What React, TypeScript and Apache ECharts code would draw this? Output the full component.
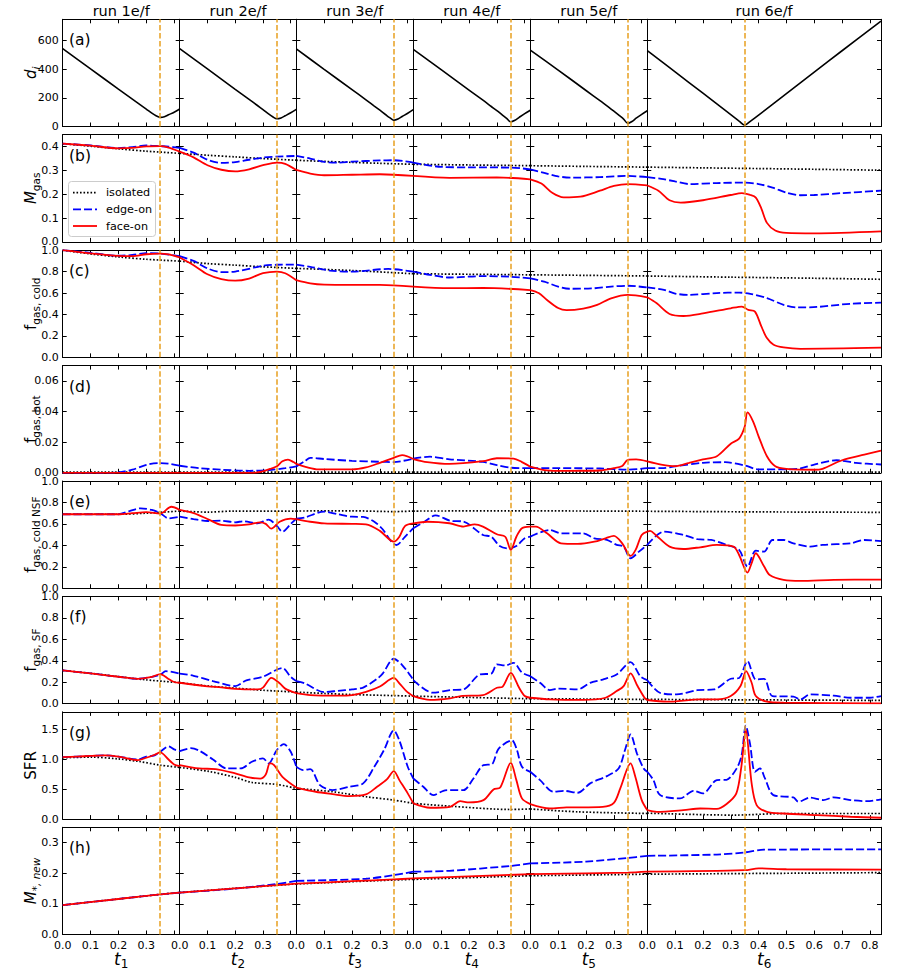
import React, { useEffect, useRef } from 'react';
import * as echarts from 'echarts';

// ---------------- data ----------------
const runTitles = ['run 1e/f', 'run 2e/f', 'run 3e/f', 'run 4e/f', 'run 5e/f', 'run 6e/f'];
const timeSubscripts = ['1', '2', '3', '4', '5', '6'];
const tMax = [0.42, 0.42, 0.42, 0.42, 0.42, 0.84];
const encounterTime = 0.35;
const panelLetters = ['(a)', '(b)', '(c)', '(d)', '(e)', '(f)', '(g)', '(h)'];
const yMax = [750, 0.45, 1.0, 0.07, 1.0, 1.0, 1.8, 0.35];
const yInterval = [200, 0.1, 0.2, 0.02, 0.2, 0.2, 0.5, 0.1];
const yDecimals = [0, 1, 1, 2, 1, 1, 1, 1];
const seriesNames = ['isolated', 'edge-on', 'face-on'];

type Cols = number[][][];

// (a) separation d_i
const distance: Cols = [
  [[0, 545], [0.1, 403], [0.2, 262], [0.25, 192], [0.28, 150], [0.3, 122], [0.32, 93], [0.335, 75], [0.35, 64], [0.365, 68], [0.38, 82], [0.4, 100], [0.42, 122]],
  [[0, 545], [0.1, 403], [0.2, 260], [0.25, 190], [0.28, 147], [0.3, 118], [0.32, 88], [0.335, 68], [0.35, 54], [0.365, 60], [0.38, 75], [0.4, 96], [0.42, 120]],
  [[0, 543], [0.1, 400], [0.2, 258], [0.25, 187], [0.28, 143], [0.3, 114], [0.32, 84], [0.335, 62], [0.35, 44], [0.365, 52], [0.38, 70], [0.4, 93], [0.42, 118]],
  [[0, 540], [0.1, 398], [0.2, 255], [0.25, 184], [0.28, 140], [0.3, 111], [0.32, 80], [0.335, 57], [0.35, 33], [0.365, 44], [0.38, 64], [0.4, 90], [0.42, 114]],
  [[0, 535], [0.1, 395], [0.2, 252], [0.25, 181], [0.28, 137], [0.3, 107], [0.32, 76], [0.335, 52], [0.35, 22], [0.365, 35], [0.38, 58], [0.4, 85], [0.42, 110]],
  [[0, 531], [0.1, 382], [0.2, 233], [0.3, 83], [0.33, 38], [0.35, 9], [0.37, 36], [0.4, 80], [0.5, 230], [0.6, 380], [0.7, 530], [0.84, 738]],
];

// (b) M_gas
const mgasIso: Cols = [
  [[0, 0.412], [0.1, 0.402], [0.2, 0.391], [0.3, 0.381], [0.42, 0.372]],
  [[0, 0.372], [0.1, 0.364], [0.2, 0.357], [0.3, 0.35], [0.42, 0.343]],
  [[0, 0.343], [0.1, 0.338], [0.2, 0.334], [0.3, 0.33], [0.42, 0.326]],
  [[0, 0.326], [0.2, 0.323], [0.42, 0.32]],
  [[0, 0.32], [0.2, 0.317], [0.42, 0.314]],
  [[0, 0.314], [0.2, 0.311], [0.4, 0.308], [0.6, 0.305], [0.84, 0.301]],
];
const mgasEdge: Cols = [
  [[0, 0.413], [0.1, 0.405], [0.2, 0.394], [0.25, 0.398], [0.3, 0.405], [0.35, 0.402], [0.38, 0.4], [0.42, 0.395]],
  [[0, 0.395], [0.05, 0.375], [0.1, 0.345], [0.15, 0.332], [0.2, 0.335], [0.25, 0.345], [0.3, 0.354], [0.35, 0.358], [0.42, 0.361]],
  [[0, 0.361], [0.05, 0.35], [0.1, 0.336], [0.15, 0.333], [0.2, 0.337], [0.3, 0.342], [0.35, 0.343], [0.42, 0.333]],
  [[0, 0.333], [0.1, 0.315], [0.2, 0.313], [0.35, 0.312], [0.42, 0.305]],
  [[0, 0.305], [0.05, 0.29], [0.1, 0.275], [0.15, 0.27], [0.25, 0.272], [0.35, 0.277], [0.42, 0.272]],
  [[0, 0.272], [0.05, 0.265], [0.1, 0.254], [0.15, 0.243], [0.25, 0.247], [0.35, 0.249], [0.4, 0.243], [0.45, 0.228], [0.5, 0.207], [0.55, 0.196], [0.6, 0.197], [0.7, 0.205], [0.84, 0.215]],
];
const mgasFace: Cols = [
  [[0, 0.413], [0.1, 0.404], [0.2, 0.393], [0.25, 0.395], [0.3, 0.401], [0.35, 0.402], [0.38, 0.396], [0.42, 0.379]],
  [[0, 0.379], [0.05, 0.355], [0.1, 0.322], [0.15, 0.303], [0.2, 0.296], [0.25, 0.305], [0.3, 0.322], [0.35, 0.333], [0.38, 0.328], [0.42, 0.302]],
  [[0, 0.302], [0.05, 0.287], [0.1, 0.28], [0.2, 0.282], [0.3, 0.284], [0.42, 0.277]],
  [[0, 0.277], [0.13, 0.269], [0.3, 0.271], [0.42, 0.263]],
  [[0, 0.263], [0.04, 0.245], [0.08, 0.205], [0.12, 0.187], [0.18, 0.19], [0.25, 0.215], [0.3, 0.235], [0.35, 0.243], [0.42, 0.237]],
  [[0, 0.237], [0.04, 0.215], [0.08, 0.175], [0.12, 0.165], [0.2, 0.175], [0.3, 0.197], [0.34, 0.205], [0.37, 0.197], [0.39, 0.186], [0.41, 0.14], [0.43, 0.08], [0.46, 0.048], [0.5, 0.038], [0.6, 0.036], [0.84, 0.044]],
];

// (c) f_gas,cold
const coldIso: Cols = [
  [[0, 1.0], [0.1, 0.965], [0.2, 0.937], [0.3, 0.915], [0.42, 0.898]],
  [[0, 0.898], [0.1, 0.875], [0.2, 0.86], [0.3, 0.845], [0.42, 0.83]],
  [[0, 0.83], [0.2, 0.81], [0.42, 0.78]],
  [[0, 0.78], [0.2, 0.775], [0.42, 0.77]],
  [[0, 0.77], [0.2, 0.765], [0.42, 0.759]],
  [[0, 0.759], [0.3, 0.748], [0.6, 0.738], [0.84, 0.728]],
];
const coldEdge: Cols = [
  [[0, 1.0], [0.1, 0.975], [0.2, 0.948], [0.25, 0.955], [0.3, 0.972], [0.35, 0.968], [0.42, 0.945]],
  [[0, 0.945], [0.05, 0.9], [0.1, 0.83], [0.15, 0.795], [0.2, 0.8], [0.3, 0.855], [0.35, 0.864], [0.42, 0.866]],
  [[0, 0.866], [0.05, 0.845], [0.12, 0.81], [0.2, 0.8], [0.33, 0.825], [0.42, 0.8]],
  [[0, 0.8], [0.06, 0.77], [0.13, 0.745], [0.25, 0.758], [0.35, 0.752], [0.42, 0.737]],
  [[0, 0.737], [0.05, 0.706], [0.1, 0.66], [0.14, 0.64], [0.22, 0.643], [0.29, 0.66], [0.35, 0.668], [0.42, 0.652]],
  [[0, 0.652], [0.06, 0.63], [0.1, 0.595], [0.15, 0.583], [0.25, 0.6], [0.33, 0.604], [0.37, 0.593], [0.43, 0.553], [0.49, 0.49], [0.54, 0.466], [0.61, 0.47], [0.73, 0.5], [0.84, 0.51]],
];
const coldFace: Cols = [
  [[0, 1.0], [0.1, 0.97], [0.2, 0.947], [0.25, 0.945], [0.3, 0.962], [0.35, 0.968], [0.38, 0.96], [0.42, 0.932]],
  [[0, 0.932], [0.05, 0.86], [0.1, 0.775], [0.15, 0.73], [0.2, 0.715], [0.25, 0.735], [0.3, 0.785], [0.35, 0.8], [0.38, 0.785], [0.42, 0.72]],
  [[0, 0.72], [0.05, 0.69], [0.1, 0.678], [0.2, 0.676], [0.3, 0.676], [0.42, 0.66]],
  [[0, 0.66], [0.13, 0.645], [0.25, 0.648], [0.42, 0.628]],
  [[0, 0.628], [0.03, 0.6], [0.06, 0.535], [0.1, 0.46], [0.13, 0.44], [0.19, 0.455], [0.24, 0.49], [0.29, 0.55], [0.35, 0.582], [0.42, 0.56]],
  [[0, 0.56], [0.034, 0.504], [0.08, 0.405], [0.13, 0.386], [0.2, 0.41], [0.3, 0.458], [0.34, 0.474], [0.363, 0.443], [0.387, 0.427], [0.41, 0.288], [0.43, 0.18], [0.454, 0.118], [0.49, 0.093], [0.55, 0.08], [0.84, 0.09]],
];

// (d) f_gas,hot
const hotIso: Cols = [
  [[0, 0.0004], [0.42, 0.0004]],
  [[0, 0.0004], [0.42, 0.0004]],
  [[0, 0.0004], [0.42, 0.0004]],
  [[0, 0.0004], [0.42, 0.0004]],
  [[0, 0.0004], [0.42, 0.0004]],
  [[0, 0.0004], [0.84, 0.0004]],
];
const hotEdge: Cols = [
  [[0, 0], [0.15, 0], [0.2, 0.0003], [0.25, 0.002], [0.3, 0.0052], [0.35, 0.0063], [0.38, 0.006], [0.42, 0.0046]],
  [[0, 0.0046], [0.07, 0.003], [0.15, 0.002], [0.25, 0.0013], [0.32, 0.0018], [0.38, 0.003], [0.42, 0.0042]],
  [[0, 0.0042], [0.03, 0.0075], [0.05, 0.0098], [0.1, 0.009], [0.2, 0.0078], [0.3, 0.0072], [0.35, 0.007], [0.42, 0.0093]],
  [[0, 0.0093], [0.06, 0.0105], [0.13, 0.0088], [0.25, 0.0071], [0.3, 0.005], [0.35, 0.0033], [0.42, 0.003]],
  [[0, 0.003], [0.1, 0.003], [0.25, 0.0028], [0.35, 0.002], [0.42, 0.003]],
  [[0, 0.003], [0.05, 0.003], [0.1, 0.0042], [0.2, 0.0065], [0.28, 0.0069], [0.35, 0.0048], [0.4, 0.0022], [0.5, 0.0022], [0.55, 0.0028], [0.6, 0.0054], [0.68, 0.0082], [0.75, 0.0065], [0.84, 0.0054]],
];
const hotFace: Cols = [
  [[0, 0], [0.42, 0]],
  [[0, 0], [0.27, 0], [0.3, 0.001], [0.33, 0.0028], [0.35, 0.0042], [0.37, 0.0075], [0.39, 0.0086], [0.41, 0.007], [0.42, 0.0058]],
  [[0, 0.0058], [0.04, 0.0035], [0.08, 0.0022], [0.2, 0.0022], [0.25, 0.0035], [0.3, 0.0065], [0.35, 0.0098], [0.38, 0.0115], [0.42, 0.009]],
  [[0, 0.009], [0.05, 0.007], [0.13, 0.0058], [0.25, 0.0076], [0.3, 0.0095], [0.36, 0.0093], [0.39, 0.007], [0.42, 0.004]],
  [[0, 0.004], [0.05, 0.0018], [0.1, 0.0013], [0.25, 0.0015], [0.3, 0.003], [0.33, 0.0045], [0.35, 0.0085], [0.38, 0.0088], [0.42, 0.0075]],
  [[0, 0.0075], [0.05, 0.0054], [0.1, 0.0043], [0.15, 0.0065], [0.2, 0.0087], [0.25, 0.0108], [0.3, 0.019], [0.33, 0.0223], [0.35, 0.03], [0.36, 0.0394], [0.38, 0.0336], [0.4, 0.0238], [0.43, 0.0108], [0.46, 0.0043], [0.5, 0.0026], [0.6, 0.002], [0.63, 0.0026], [0.7, 0.0082], [0.78, 0.0119], [0.84, 0.0145]],
];

// (e) f_gas,cold NSF
const nsfIso: Cols = [
  [[0, 0.69], [0.2, 0.69], [0.3, 0.7], [0.42, 0.72]],
  [[0, 0.72], [0.1, 0.71], [0.2, 0.72], [0.42, 0.72]],
  [[0, 0.72], [0.2, 0.722], [0.35, 0.715], [0.42, 0.72]],
  [[0, 0.72], [0.42, 0.722]],
  [[0, 0.722], [0.2, 0.72], [0.42, 0.718]],
  [[0, 0.718], [0.4, 0.712], [0.84, 0.708]],
];
const nsfEdge: Cols = [
  [[0, 0.69], [0.2, 0.69], [0.24, 0.72], [0.28, 0.745], [0.32, 0.73], [0.35, 0.7], [0.38, 0.652], [0.42, 0.667]],
  [[0, 0.667], [0.05, 0.645], [0.1, 0.627], [0.15, 0.63], [0.2, 0.615], [0.23, 0.625], [0.28, 0.605], [0.32, 0.64], [0.35, 0.58], [0.37, 0.527], [0.4, 0.6], [0.42, 0.65]],
  [[0, 0.65], [0.03, 0.66], [0.1, 0.714], [0.15, 0.69], [0.2, 0.667], [0.24, 0.665], [0.28, 0.62], [0.31, 0.55], [0.34, 0.44], [0.36, 0.403], [0.39, 0.48], [0.42, 0.56]],
  [[0, 0.56], [0.04, 0.62], [0.08, 0.68], [0.132, 0.63], [0.18, 0.621], [0.25, 0.497], [0.28, 0.481], [0.31, 0.394], [0.34, 0.372], [0.37, 0.394], [0.4, 0.466], [0.42, 0.481]],
  [[0, 0.481], [0.07, 0.543], [0.11, 0.512], [0.19, 0.512], [0.23, 0.466], [0.275, 0.45], [0.31, 0.404], [0.335, 0.388], [0.36, 0.279], [0.39, 0.341], [0.42, 0.404]],
  [[0, 0.404], [0.06, 0.528], [0.13, 0.497], [0.18, 0.457], [0.23, 0.45], [0.285, 0.404], [0.33, 0.357], [0.36, 0.202], [0.39, 0.35], [0.42, 0.341], [0.45, 0.45], [0.49, 0.45], [0.525, 0.419], [0.585, 0.388], [0.63, 0.404], [0.73, 0.419], [0.78, 0.45], [0.84, 0.44]],
];
const nsfFace: Cols = [
  [[0, 0.69], [0.1, 0.69], [0.2, 0.69], [0.25, 0.7], [0.3, 0.71], [0.35, 0.695], [0.39, 0.76], [0.42, 0.73]],
  [[0, 0.73], [0.05, 0.7], [0.1, 0.646], [0.15, 0.59], [0.2, 0.585], [0.25, 0.595], [0.29, 0.615], [0.31, 0.6], [0.33, 0.555], [0.36, 0.62], [0.4, 0.65], [0.42, 0.645]],
  [[0, 0.645], [0.05, 0.62], [0.1, 0.605], [0.2, 0.6], [0.25, 0.596], [0.3, 0.535], [0.35, 0.434], [0.37, 0.48], [0.39, 0.58], [0.42, 0.605]],
  [[0, 0.605], [0.05, 0.62], [0.13, 0.606], [0.18, 0.575], [0.22, 0.596], [0.25, 0.575], [0.3, 0.503], [0.33, 0.48], [0.35, 0.357], [0.37, 0.48], [0.39, 0.56], [0.42, 0.575]],
  [[0, 0.575], [0.02, 0.575], [0.06, 0.512], [0.11, 0.419], [0.17, 0.413], [0.23, 0.434], [0.27, 0.466], [0.3, 0.488], [0.33, 0.419], [0.36, 0.301], [0.378, 0.357], [0.4, 0.497], [0.42, 0.528]],
  [[0, 0.528], [0.01, 0.535], [0.03, 0.497], [0.08, 0.388], [0.13, 0.366], [0.19, 0.382], [0.25, 0.404], [0.31, 0.388], [0.33, 0.31], [0.36, 0.146], [0.375, 0.233], [0.39, 0.326], [0.42, 0.202], [0.44, 0.124], [0.49, 0.078], [0.55, 0.068], [0.67, 0.078], [0.84, 0.081]],
];

// (f) f_gas,SF
const sfIso: Cols = [
  [[0, 0.31], [0.1, 0.283], [0.2, 0.252], [0.3, 0.222], [0.42, 0.196]],
  [[0, 0.196], [0.1, 0.165], [0.2, 0.145], [0.3, 0.125], [0.42, 0.108]],
  [[0, 0.108], [0.1, 0.095], [0.2, 0.085], [0.35, 0.075], [0.42, 0.07]],
  [[0, 0.07], [0.2, 0.058], [0.42, 0.046]],
  [[0, 0.046], [0.2, 0.043], [0.42, 0.04]],
  [[0, 0.04], [0.3, 0.036], [0.6, 0.033], [0.84, 0.03]],
];
const sfEdge: Cols = [
  [[0, 0.31], [0.1, 0.283], [0.2, 0.251], [0.27, 0.232], [0.32, 0.25], [0.35, 0.27], [0.37, 0.303], [0.42, 0.28]],
  [[0, 0.28], [0.05, 0.26], [0.12, 0.211], [0.2, 0.164], [0.24, 0.217], [0.3, 0.251], [0.37, 0.332], [0.4, 0.25], [0.42, 0.21]],
  [[0, 0.21], [0.03, 0.19], [0.1, 0.108], [0.15, 0.12], [0.2, 0.133], [0.24, 0.15], [0.29, 0.232], [0.31, 0.28], [0.35, 0.419], [0.38, 0.36], [0.41, 0.26], [0.42, 0.22]],
  [[0, 0.22], [0.07, 0.102], [0.132, 0.126], [0.18, 0.133], [0.24, 0.273], [0.28, 0.28], [0.3, 0.366], [0.33, 0.356], [0.36, 0.381], [0.39, 0.29], [0.42, 0.256]],
  [[0, 0.256], [0.035, 0.194], [0.07, 0.126], [0.1, 0.14], [0.17, 0.133], [0.215, 0.194], [0.26, 0.225], [0.31, 0.272], [0.36, 0.387], [0.395, 0.256], [0.42, 0.219]],
  [[0, 0.219], [0.045, 0.102], [0.105, 0.086], [0.18, 0.126], [0.24, 0.133], [0.3, 0.232], [0.33, 0.24], [0.36, 0.397], [0.39, 0.226], [0.42, 0.232], [0.45, 0.071], [0.525, 0.065], [0.55, 0.04], [0.585, 0.086], [0.67, 0.075], [0.73, 0.055], [0.8, 0.055], [0.84, 0.071]],
];
const sfFace: Cols = [
  [[0, 0.31], [0.1, 0.283], [0.2, 0.251], [0.27, 0.232], [0.32, 0.25], [0.35, 0.276], [0.38, 0.23], [0.4, 0.202], [0.42, 0.195]],
  [[0, 0.195], [0.1, 0.162], [0.15, 0.152], [0.2, 0.138], [0.28, 0.133], [0.3, 0.149], [0.33, 0.24], [0.36, 0.19], [0.38, 0.14], [0.42, 0.098]],
  [[0, 0.098], [0.05, 0.08], [0.15, 0.075], [0.2, 0.08], [0.25, 0.11], [0.3, 0.16], [0.35, 0.24], [0.37, 0.19], [0.395, 0.117], [0.42, 0.07]],
  [[0, 0.07], [0.06, 0.035], [0.132, 0.049], [0.17, 0.071], [0.25, 0.08], [0.3, 0.148], [0.32, 0.157], [0.35, 0.288], [0.38, 0.148], [0.4, 0.071], [0.42, 0.055]],
  [[0, 0.055], [0.07, 0.04], [0.19, 0.035], [0.27, 0.055], [0.31, 0.117], [0.335, 0.164], [0.36, 0.282], [0.385, 0.164], [0.41, 0.055], [0.42, 0.034]],
  [[0, 0.034], [0.07, 0.018], [0.19, 0.04], [0.25, 0.04], [0.3, 0.071], [0.335, 0.164], [0.355, 0.303], [0.375, 0.195], [0.39, 0.071], [0.43, 0.018], [0.49, 0.009], [0.84, 0.003]],
];

// (g) SFR
const sfrIso: Cols = [
  [[0, 1.03], [0.1, 1.04], [0.2, 1.01], [0.27, 0.97], [0.35, 0.906], [0.42, 0.867]],
  [[0, 0.867], [0.1, 0.805], [0.2, 0.7], [0.26, 0.616], [0.35, 0.582], [0.42, 0.515]],
  [[0, 0.515], [0.13, 0.459], [0.25, 0.375], [0.35, 0.319], [0.42, 0.263]],
  [[0, 0.263], [0.13, 0.217], [0.35, 0.161], [0.42, 0.17]],
  [[0, 0.17], [0.17, 0.122], [0.42, 0.094]],
  [[0, 0.1], [0.31, 0.067], [0.5, 0.094], [0.84, 0.094]],
];
const sfrEdge: Cols = [
  [[0, 1.04], [0.05, 1.05], [0.1, 1.06], [0.15, 1.07], [0.2, 1.05], [0.27, 1.0], [0.3, 1.05], [0.33, 1.07], [0.35, 1.13], [0.38, 1.22], [0.4, 1.17], [0.42, 1.14]],
  [[0, 1.14], [0.04, 1.19], [0.07, 1.15], [0.12, 1.0], [0.17, 0.85], [0.22, 0.85], [0.26, 0.962], [0.3, 1.02], [0.32, 0.934], [0.35, 1.16], [0.375, 1.26], [0.4, 1.13], [0.42, 0.878]],
  [[0, 0.878], [0.025, 0.822], [0.05, 0.84], [0.085, 0.57], [0.13, 0.487], [0.19, 0.543], [0.24, 0.599], [0.28, 0.878], [0.315, 1.16], [0.35, 1.49], [0.37, 1.32], [0.4, 0.878], [0.42, 0.682]],
  [[0, 0.682], [0.036, 0.542], [0.072, 0.403], [0.108, 0.475], [0.132, 0.486], [0.18, 0.486], [0.216, 0.682], [0.252, 0.906], [0.282, 0.92], [0.306, 1.18], [0.354, 1.32], [0.372, 1.16], [0.39, 0.878], [0.42, 0.794]],
  [[0, 0.794], [0.035, 0.654], [0.083, 0.459], [0.12, 0.475], [0.17, 0.442], [0.215, 0.599], [0.275, 0.722], [0.317, 0.85], [0.34, 1.16], [0.36, 1.42], [0.383, 1.1], [0.407, 0.85], [0.42, 0.794]],
  [[0, 0.794], [0.022, 0.654], [0.046, 0.403], [0.118, 0.347], [0.166, 0.475], [0.2, 0.43], [0.25, 0.654], [0.285, 0.66], [0.321, 0.85], [0.339, 1.07], [0.354, 1.57], [0.369, 1.27], [0.387, 0.794], [0.405, 0.85], [0.423, 0.682], [0.453, 0.403], [0.525, 0.364], [0.543, 0.291], [0.585, 0.36], [0.633, 0.319], [0.669, 0.364], [0.73, 0.319], [0.79, 0.3], [0.84, 0.33]],
];
const sfrFace: Cols = [
  [[0, 1.04], [0.05, 1.05], [0.1, 1.06], [0.15, 1.07], [0.2, 1.05], [0.27, 0.99], [0.3, 1.03], [0.33, 1.08], [0.35, 1.12], [0.38, 1.0], [0.4, 0.917], [0.42, 0.89]],
  [[0, 0.906], [0.07, 0.85], [0.13, 0.84], [0.2, 0.766], [0.25, 0.7], [0.29, 0.68], [0.31, 0.75], [0.325, 0.934], [0.34, 0.906], [0.37, 0.71], [0.42, 0.53]],
  [[0, 0.53], [0.07, 0.459], [0.13, 0.42], [0.19, 0.386], [0.25, 0.414], [0.29, 0.542], [0.325, 0.666], [0.35, 0.805], [0.37, 0.654], [0.4, 0.431], [0.42, 0.263]],
  [[0, 0.263], [0.06, 0.19], [0.132, 0.206], [0.168, 0.3], [0.2, 0.28], [0.252, 0.319], [0.288, 0.497], [0.312, 0.53], [0.35, 0.945], [0.37, 0.654], [0.39, 0.347], [0.42, 0.252]],
  [[0, 0.252], [0.07, 0.178], [0.13, 0.195], [0.26, 0.206], [0.3, 0.273], [0.323, 0.515], [0.36, 0.934], [0.377, 0.71], [0.4, 0.319], [0.42, 0.15]],
  [[0, 0.15], [0.034, 0.122], [0.13, 0.15], [0.19, 0.178], [0.25, 0.17], [0.285, 0.252], [0.32, 0.431], [0.338, 0.878], [0.354, 1.5], [0.375, 0.599], [0.393, 0.235], [0.43, 0.122], [0.49, 0.094], [0.61, 0.067], [0.73, 0.039], [0.84, 0.022]],
];

// (h) M_*,new
const mnewIso: Cols = [
  [[0, 0.096], [0.35, 0.131], [0.42, 0.137]],
  [[0, 0.137], [0.35, 0.161], [0.42, 0.165]],
  [[0, 0.165], [0.35, 0.178], [0.42, 0.18]],
  [[0, 0.18], [0.42, 0.192]],
  [[0, 0.192], [0.42, 0.197]],
  [[0, 0.197], [0.84, 0.202]],
];
const mnewEdge: Cols = [
  [[0, 0.096], [0.2, 0.116], [0.35, 0.131], [0.42, 0.137]],
  [[0, 0.137], [0.2, 0.15], [0.35, 0.165], [0.42, 0.175]],
  [[0, 0.175], [0.25, 0.182], [0.35, 0.194], [0.42, 0.205]],
  [[0, 0.205], [0.13, 0.208], [0.35, 0.224], [0.42, 0.232]],
  [[0, 0.232], [0.2, 0.238], [0.35, 0.25], [0.42, 0.257]],
  [[0, 0.257], [0.25, 0.261], [0.35, 0.268], [0.42, 0.277], [0.84, 0.278]],
];
const mnewFace: Cols = [
  [[0, 0.096], [0.2, 0.116], [0.35, 0.131], [0.42, 0.137]],
  [[0, 0.137], [0.35, 0.161], [0.42, 0.166]],
  [[0, 0.166], [0.2, 0.174], [0.35, 0.18], [0.42, 0.183]],
  [[0, 0.183], [0.42, 0.197]],
  [[0, 0.197], [0.35, 0.202], [0.42, 0.205]],
  [[0, 0.205], [0.35, 0.21], [0.4, 0.216], [0.5, 0.213], [0.84, 0.212]],
];

const rowSeries: (Cols[])[] = [
  [distance],
  [mgasIso, mgasEdge, mgasFace],
  [coldIso, coldEdge, coldFace],
  [hotIso, hotEdge, hotFace],
  [nsfIso, nsfEdge, nsfFace],
  [sfIso, sfEdge, sfFace],
  [sfrIso, sfrEdge, sfrFace],
  [mnewIso, mnewEdge, mnewFace],
];

// ---------------- layout / style ----------------
const FONT = 'DejaVu Sans';
const COL_X = [62.7, 179.7, 296.3, 413.3, 530.3, 647.3, 881];
const ROW_Y0 = 19.3;
const ROW_STEP = 115.43;
const ROW_H = 107.2;
const ORANGE = '#e8a020';

const styles = [
  { color: '#000000', type: [1.6, 1.9] as any, width: 1.7 },
  { color: '#0000ff', type: [8, 3] as any, width: 1.8 },
  { color: '#ff0000', type: 'solid' as any, width: 1.8 },
];

const yLabelTexts = [
  '{i|d}{si|i}',
  '{i|M}{s|gas}',
  '{n|f}{s|gas, cold}',
  '{n|f}{s|gas, hot}',
  '{n|f}{s|gas, cold NSF}',
  '{n|f}{s|gas, SF}',
  '{n|SFR}',
  '{i|M}{si|*, new}',
];

function buildOption() {
  const grid: any[] = [];
  const xAxis: any[] = [];
  const yAxis: any[] = [];
  const series: any[] = [];
  const graphic: any[] = [];

  const axisLine = { show: true, onZero: false, lineStyle: { color: '#000', width: 1 } };
  const axisTick = { show: true, inside: true, length: 4, lineStyle: { color: '#000', width: 1 } };

  for (let r = 0; r < 8; r++) {
    const top = ROW_Y0 + r * ROW_STEP;
    const lastTick = Math.floor(yMax[r] / yInterval[r] + 1e-9) * yInterval[r];
    for (let c = 0; c < 6; c++) {
      const g = r * 6 + c;
      grid.push({ left: COL_X[c], top, width: COL_X[c + 1] - COL_X[c], height: ROW_H, containLabel: false });
      const xFmt = (v: number) => {
        if (c < 5 && v > 0.35) return '';
        if (v > 0.805) return '';
        return v.toFixed(1);
      };
      xAxis.push({
        type: 'value', gridIndex: g, position: 'bottom', min: 0, max: tMax[c], interval: 0.1,
        axisLine, axisTick, splitLine: { show: false },
        axisLabel: { show: r === 7, margin: 5, fontSize: 11, fontFamily: FONT, color: '#000', formatter: xFmt, showMaxLabel: true },
      });
      xAxis.push({
        type: 'value', gridIndex: g, position: 'top', min: 0, max: tMax[c], interval: 0.1,
        axisLine, axisTick, splitLine: { show: false }, axisLabel: { show: false },
      });
      const yFmt = (v: number) => (v > lastTick + 1e-9 ? '' : v.toFixed(yDecimals[r]));
      yAxis.push({
        type: 'value', gridIndex: g, position: 'left', min: 0, max: yMax[r], interval: yInterval[r],
        axisLine, axisTick, splitLine: { show: false },
        axisLabel: { show: c === 0, margin: 4, fontSize: 11, fontFamily: FONT, color: '#000', formatter: yFmt },
      });
      yAxis.push({
        type: 'value', gridIndex: g, position: 'right', min: 0, max: yMax[r], interval: yInterval[r],
        axisLine, axisTick, splitLine: { show: false }, axisLabel: { show: false },
      });

      const sets = rowSeries[r];
      sets.forEach((cols, k) => {
        const st = r === 0 ? { color: '#000', type: 'solid', width: 1.6 } : styles[k];
        const s: any = {
          type: 'line',
          name: r === 0 ? 'd' : seriesNames[k],
          xAxisIndex: 2 * g,
          yAxisIndex: 2 * g,
          data: cols[c],
          showSymbol: false,
          symbol: 'none',
          smooth: 0.3,
          clip: true,
          silent: true,
          lineStyle: { color: st.color, type: st.type, width: st.width },
          itemStyle: { color: st.color },
          emphasis: { disabled: true },
          z: 2 + k,
        };
        if (k === 0) {
          s.markLine = {
            silent: true,
            symbol: ['none', 'none'],
            label: { show: false },
            lineStyle: { color: ORANGE, type: [5.5, 2.5], width: 1.5 },
            emphasis: { disabled: true },
            data: [{ xAxis: encounterTime }],
          };
        }
        series.push(s);
      });
    }

    // panel letter
    graphic.push({
      type: 'text', x: 69, y: top + 21, z: 50,
      style: { text: panelLetters[r], fontSize: 15.5, fontFamily: FONT, fill: '#000', align: 'left', verticalAlign: 'middle' },
    });
    // y label
    graphic.push({
      type: 'text', x: 31, y: top + ROW_H / 2, rotation: Math.PI / 2, z: 50,
      style: {
        text: yLabelTexts[r], align: 'center', verticalAlign: 'middle', fill: '#000',
        rich: {
          i: { fontSize: 15, fontStyle: 'italic', fontFamily: FONT, lineHeight: 21, fill: '#000' },
          n: { fontSize: 15, fontFamily: FONT, lineHeight: 21, fill: '#000' },
          s: { fontSize: 10.5, fontFamily: FONT, verticalAlign: 'bottom', fill: '#000' },
          si: { fontSize: 10.5, fontStyle: 'italic', fontFamily: FONT, verticalAlign: 'bottom', fill: '#000' },
        },
      },
    });
  }

  for (let c = 0; c < 6; c++) {
    const cx = (COL_X[c] + COL_X[c + 1]) / 2;
    graphic.push({
      type: 'text', x: cx, y: 11, z: 50,
      style: { text: runTitles[c], fontSize: 14.5, fontFamily: FONT, fill: '#000', align: 'center', verticalAlign: 'middle' },
    });
    graphic.push({
      type: 'text', x: cx, y: 959, z: 50,
      style: {
        text: '{i|t}{s|' + timeSubscripts[c] + '}', align: 'center', verticalAlign: 'middle', fill: '#000',
        rich: {
          i: { fontSize: 17, fontStyle: 'italic', fontFamily: FONT, lineHeight: 22, fill: '#000' },
          s: { fontSize: 12, fontFamily: FONT, verticalAlign: 'bottom', fill: '#000' },
        },
      },
    });
  }

  // legend (panel b)
  const lx = 68.5, ly = 181.5;
  graphic.push({
    type: 'rect', z: 60,
    shape: { x: lx, y: ly, width: 87, height: 55, r: 3 },
    style: { fill: 'rgba(255,255,255,0.85)', stroke: '#cccccc', lineWidth: 1 },
  });
  const rowsY = [192.7, 209.3, 226];
  seriesNames.forEach((name, k) => {
    graphic.push({
      type: 'line', z: 61,
      shape: { x1: 73, y1: rowsY[k], x2: 97, y2: rowsY[k] },
      style: { stroke: styles[k].color, lineWidth: styles[k].width, lineDash: k === 2 ? null : styles[k].type },
    });
    graphic.push({
      type: 'text', x: 106, y: rowsY[k], z: 61,
      style: { text: name, fontSize: 11.2, fontFamily: FONT, fill: '#000', align: 'left', verticalAlign: 'middle' },
    });
  });

  return {
    animation: false,
    backgroundColor: '#ffffff',
    textStyle: { fontFamily: FONT },
    grid, xAxis, yAxis, series, graphic,
  };
}

export default function App() {
  const ref = useRef<HTMLDivElement>(null);
  useEffect(() => {
    if (!ref.current) return;
    const chart = echarts.init(ref.current, undefined, { renderer: 'svg' });
    chart.setOption(buildOption() as any);
    return () => chart.dispose();
  }, []);
  return (
    <div
      ref={ref}
      style={{ position: 'absolute', left: 0, top: 0, width: 899, height: 974, background: '#fff' }}
    />
  );
}
